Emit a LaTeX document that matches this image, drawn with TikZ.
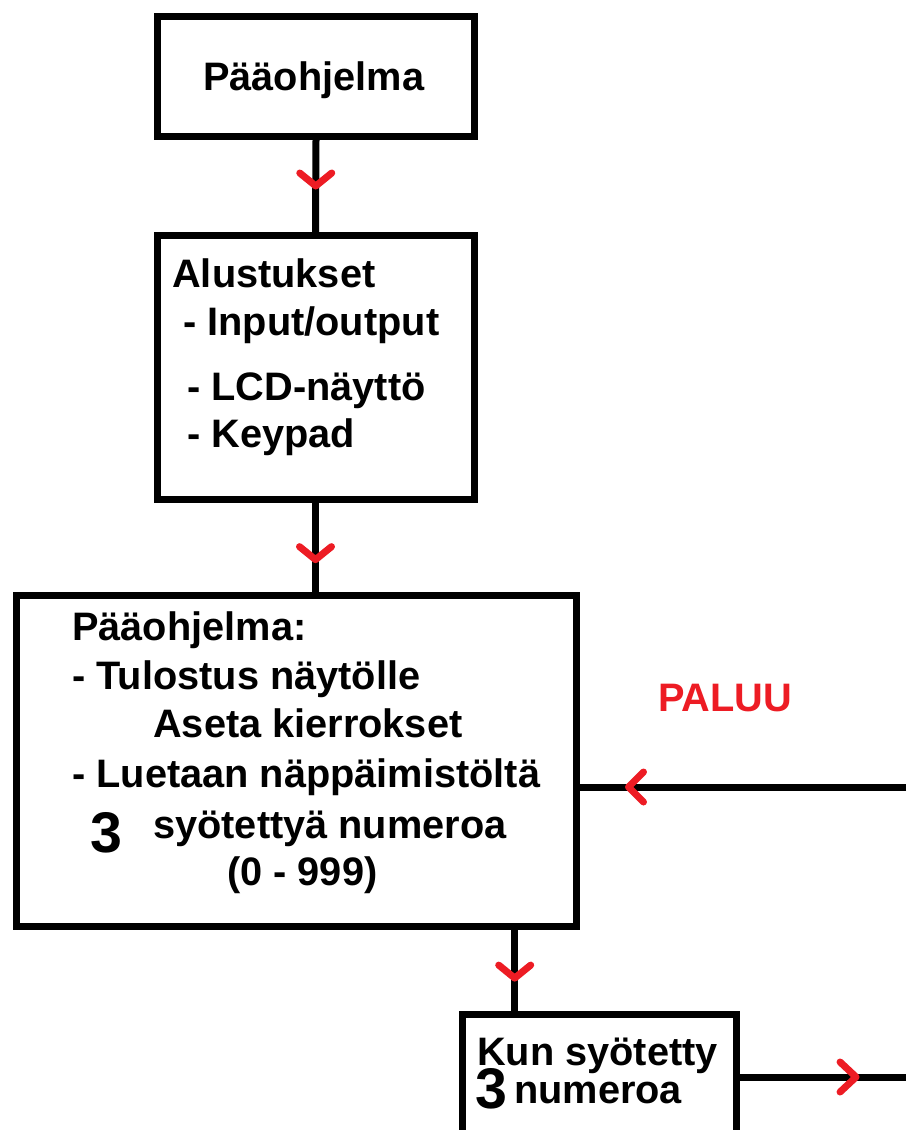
\documentclass[tikz,border=0pt]{standalone}
\usepackage{fontspec}
\setmainfont{Liberation Sans}
\usetikzlibrary{calc}
\definecolor{paintRed}{RGB}{237,28,36}

\begin{document}
\begin{tikzpicture}[
  x=0.75pt, y=-0.75pt,
  box/.style={draw, line width=5.25pt, inner sep=0pt},
  wire/.style={line width=5.25pt},
  chev/.style={draw=paintRed, line width=5.25pt, line cap=round, line join=round},
  txt/.style={anchor=base west, inner sep=0pt, font=\bfseries\fontsize{29.8}{34}\selectfont},
  big/.style={txt, font=\bfseries\fontsize{43}{50}\selectfont},
  chevdown/.pic={\draw[chev] (-16,-13) -- (0,0) -- (16,-13);},
  chevleft/.pic={\draw[chev] (15,-15) -- (0,0) -- (15,15);},
  chevright/.pic={\draw[chev] (-16,-15) -- (0,0) -- (-16,15);}
]
  \useasboundingbox (0,0) rectangle (906,1130);
  \fill[white] (0,0) rectangle (906,1130);
  \clip (0,0) rectangle (906,1130);

  % boxes
  \node[box, minimum width=237.75pt, minimum height=90pt] (top) at (316,76.5) {};
  \node[box, minimum width=237.75pt, minimum height=198pt] (init) at (315.5,367.5) {};
  \node[box, minimum width=420pt, minimum height=248.25pt] (main) at (296,760.5) {};
  \node[box, minimum width=205.5pt, minimum height=94.5pt] (kun) at (599,1077) {};

  % texts
  \node[txt] (t1) at (203,91) {Pääohjelma};

  \node[txt] (a1) at (172,288) {Alustukset};
  \node[txt] (a2) at (183,335) {- Input/output};
  \node[txt] (a3) at (187,400) {- LCD-näyttö};
  \node[txt] (a4) at (187,447) {- Keypad};

  \node[txt] (m1) at (72,640) {Pääohjelma:};
  \node[txt] (m2) at (72,689) {- Tulostus näytölle};
  \node[txt] (m3) at (153,737) {Aseta kierrokset};
  \node[txt] (m4) at (72,787) {- Luetaan näppäimistöltä};
  \node[big] (m5) at (90,852) {3};
  \node[txt] (m6) at (153,838) {syötettyä numeroa};
  \node[txt] (m7) at (227,885) {(0 - 999)};

  \node[txt] (k1) at (477,1065) {Kun syötetty};
  \node[big] (k2) at (475,1108) {3};
  \node[txt] (k3) at (514,1103) {numeroa};

  \node[txt, text=paintRed] (paluu) at (658,711) {PALUU};

  % connectors
  \draw[wire] (top.south) -- (init.north) pic[pos=0.5]{chevdown};
  \draw[wire] (init.south) -- (init.south |- main.north) pic[pos=0.64]{chevdown};
  \coordinate (k) at ($(kun.north west)!0.2!(kun.north east)$);
  \draw[wire] (k |- main.south) -- (k) pic[pos=0.6]{chevdown};
  \coordinate (ret) at (906,787);
  \draw[wire] (ret) -- (ret -| main.east) pic[pos=0.85]{chevleft};
  \coordinate (out) at (906,1077);
  \draw[wire] (kun.east) -- (out) pic[pos=0.7]{chevright};
\end{tikzpicture}
\end{document}
